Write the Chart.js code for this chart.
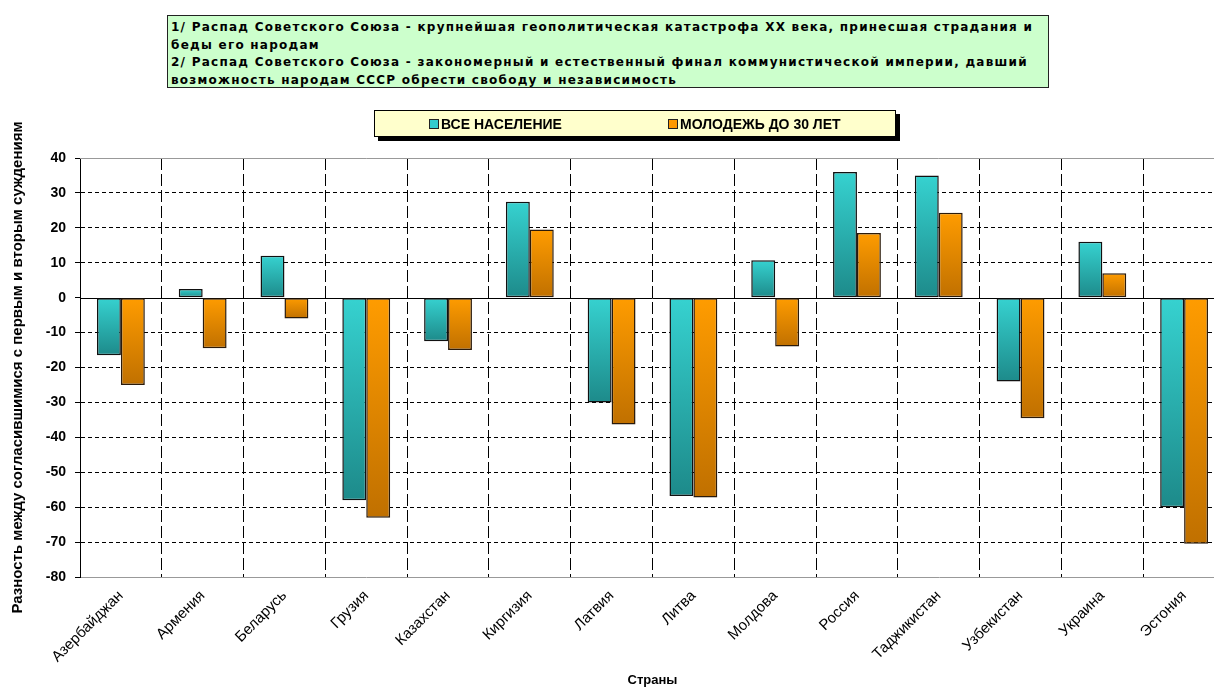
<!DOCTYPE html>
<html>
<head>
<meta charset="utf-8">
<script src="https://cdn.jsdelivr.net/npm/chart.js@4.4.1/dist/chart.umd.min.js"></script>
<style>
  body { margin: 0; width: 1214px; height: 688px; overflow: hidden; background: #fff; position: relative; }
  #chart { position: absolute; left: 0; top: 0; }
  #note {
    position: absolute; left: 167px; top: 15px; width: 882px; height: 73px;
    box-sizing: border-box; padding: 3px 0 0 3px;
    background: #ccffcc; border: 1px solid #222;
    font: bold 12px "DejaVu Sans", Verdana, sans-serif; letter-spacing: 1.25px;
    line-height: 17.5px; color: #000; white-space: nowrap;
  }
  #legend {
    position: absolute; left: 374px; top: 110px; width: 522px; height: 27px;
    box-sizing: border-box; background: #ffffcc; border: 1px solid #000;
    box-shadow: 4px 4px 0 #000;
    font: bold 14px "Liberation Sans", Arial, sans-serif; color: #000;
  }
  #legend span.item { position: absolute; top: 5px; white-space: nowrap; }
  #legend i { display: inline-block; width: 8px; height: 8px; border: 1px solid #222; margin-right: 2px; vertical-align: 0px; }
</style>
</head>
<body>
<canvas id="chart" width="1226" height="688"></canvas>
<div id="note">1/ Распад Советского Союза - крупнейшая геополитическая катастрофа XX века, принесшая страдания и<br>беды его народам<br>2/ Распад Советского Союза - закономерный и естественный финал коммунистической империи, давший<br>возможность народам СССР обрести свободу и независимость</div>
<div id="legend">
  <span class="item" style="left:54px"><i style="background:#33cccc"></i>ВСЕ НАСЕЛЕНИЕ</span>
  <span class="item" style="left:293px"><i style="background:#ff9900"></i>МОЛОДЕЖЬ ДО 30 ЛЕТ</span>
</div>
<script>
const countries = ['Азербайджан', 'Армения', 'Беларусь', 'Грузия', 'Казахстан', 'Киргизия', 'Латвия',
  'Литва', 'Молдова', 'Россия', 'Таджикистан', 'Узбекистан', 'Украина', 'Эстония'];
const allPopulation = [-16.5, 2.5, 12, -58, -12.5, 27.5, -30, -56.8, 10.7, 36, 35, -24, 16, -60];
const youthUnder30 = [-25, -14.5, -6, -63, -15, 19.5, -36.3, -57.2, -14, 18.5, 24.3, -34.5, 7, -70.5];
const seriesNames = ['ВСЕ НАСЕЛЕНИЕ', 'МОЛОДЕЖЬ ДО 30 ЛЕТ'];

// vertical gradient on each bar, light at the top
const barGradient = (light, dark) => (ctx) => {
    if (ctx.type !== 'data' || !ctx.chart.chartArea) return light;
    const y = ctx.chart.scales.y;
    const v = ctx.dataset.data[ctx.dataIndex];
    const p0 = y.getPixelForValue(0), p1 = y.getPixelForValue(v);
    const g = ctx.chart.ctx.createLinearGradient(0, Math.min(p0, p1), 0, Math.max(p0, p1));
    g.addColorStop(0, light);
    g.addColorStop(1, dark);
    return g;
};

const frameLines = {
    id: 'frameLines',
    beforeDatasetsDraw(chart) {
        const { ctx, chartArea } = chart;
        const y0 = Math.round(chart.scales.y.getPixelForValue(0)) + 0.5;
        ctx.save();
        ctx.strokeStyle = '#999';
        ctx.lineWidth = 1;
        ctx.beginPath();
        ctx.moveTo(chartArea.left, chartArea.top + 0.5);
        ctx.lineTo(chartArea.right, chartArea.top + 0.5);
        ctx.stroke();
        ctx.strokeStyle = '#000';
        ctx.beginPath();
        ctx.moveTo(chartArea.left, y0);
        ctx.lineTo(chartArea.right, y0);
        ctx.stroke();
        ctx.restore();
    }
};

const chart = new Chart(document.getElementById('chart').getContext('2d'), {
    type: 'bar',
    data: {
        labels: countries,
        datasets: [{
            label: seriesNames[0],
            data: allPopulation,
            backgroundColor: barGradient('#36d2d0', '#1d8a8a'),
            borderColor: '#111',
            borderWidth: 1.5,
            borderSkipped: false
        }, {
            label: seriesNames[1],
            data: youthUnder30,
            backgroundColor: barGradient('#ff9c00', '#c07000'),
            borderColor: '#2a1a0a',
            borderWidth: 1.5,
            borderSkipped: false
        }]
    },
    options: {
        responsive: false,
        animation: false,
        categoryPercentage: 0.585,
        barPercentage: 1,
        layout: { padding: { top: 158, right: 1, left: 0, bottom: 0 } },
        plugins: { legend: { display: false }, tooltip: { enabled: false } },
        scales: {
            x: {
                afterFit: s => { s.height = 111; },
                grid: { color: '#000', lineWidth: 1, drawTicks: false, offset: true },
                border: { display: true, color: '#999', width: 1, dash: [12, 4] },
                ticks: {
                    color: '#000', padding: 10, autoSkip: false, minRotation: 45, maxRotation: 45,
                    font: { family: '"Liberation Sans", Arial, sans-serif', size: 15 }
                },
                title: {
                    display: true, text: 'Страны', color: '#000', padding: { top: 0, bottom: 0 },
                    font: { family: '"Liberation Sans", Arial, sans-serif', size: 13, weight: 'bold' }
                }
            },
            y: {
                min: -80, max: 40,
                afterFit: s => { s.width = 80; },
                grid: {
                    color: c => (c.tick && [40, 0, -80].includes(c.tick.value)) ? 'rgba(0,0,0,0)' : '#000',
                    lineWidth: 1, tickLength: 5, tickColor: '#000'
                },
                border: { display: true, color: '#000', width: 1, dash: [4, 3] },
                ticks: {
                    stepSize: 10, color: '#000', padding: 9,
                    font: { family: '"Liberation Sans", Arial, sans-serif', size: 14, weight: 'bold' }
                },
                title: {
                    display: true, text: 'Разность между согласившимися с первым и вторым суждениям',
                    color: '#000', padding: { top: 9, bottom: 0 },
                    font: { family: '"Liberation Sans", Arial, sans-serif', size: 15, weight: 'bold' }
                }
            }
        }
    },
    plugins: [frameLines]
});
</script>
</body>
</html>
